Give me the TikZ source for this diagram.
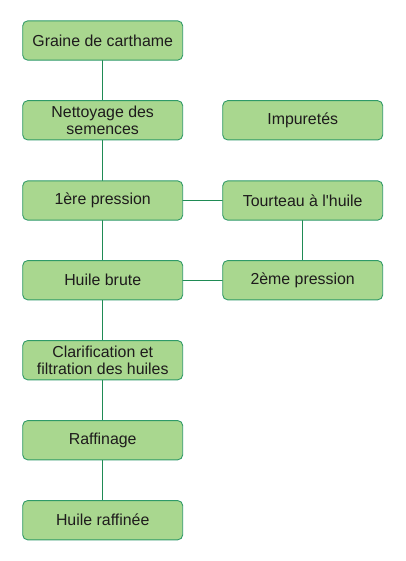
\documentclass[tikz,border=0pt]{standalone}
\usepackage{fontspec}
\setmainfont{Liberation Sans}
\usepackage{tikz}
\usetikzlibrary{positioning}
\definecolor{boxFill}{HTML}{A9D78F}
\definecolor{boxEdge}{HTML}{2F9A68}
\definecolor{linkGreen}{HTML}{1F8B55}
\definecolor{textGray}{HTML}{1E1B1C}
\tikzset{
  etape/.style={draw=boxEdge, fill=boxFill, line width=0.9pt, rounded corners=5pt,
    minimum width=160pt, minimum height=39.3pt, inner sep=0pt, align=center,
    text=textGray, font=\fontsize{15.9}{16.8}\selectfont},
  lien/.style={draw=linkGreen, line width=0.9pt}
}

\begin{document}
\begin{tikzpicture}[x=1pt, y=-1pt]

  \useasboundingbox (0,0) rectangle (406,561);

  \coordinate (L1) at (102.7,40.5);
  \coordinate (L2) at (102.7,120.3);
  \coordinate (L3) at (102.7,200.5);
  \coordinate (L4) at (102.7,280.2);
  \coordinate (L5) at (102.7,360.2);
  \coordinate (L6) at (102.7,440.2);
  \coordinate (L7) at (102.7,520.2);
  \coordinate (R2) at (302.7,120.3);
  \coordinate (R3) at (302.7,200.5);
  \coordinate (R4) at (302.7,280.2);

  % connectors first, boxes on top
  \path[lien] (L1) -- (L7);
  \path[lien] (L3) -- (R3);
  \path[lien] (L4) -- (R4);
  \path[lien] (R3) -- (R4);

  \node[etape] (graine) at (L1) {Graine de carthame};
  \node[etape] (nettoyage) at (L2) {Nettoyage des\\semences};
  \node[etape] (pression1) at (L3) {1ère pression};
  \node[etape] (brute) at (L4) {Huile brute};
  \node[etape] (clarif) at (L5) {Clarification et\\filtration des huiles};
  \node[etape] (raffinage) at (L6) {Raffinage};
  \node[etape] (raffinee) at (L7) {Huile raffinée};

  \node[etape] (impuretes) at (R2) {Impuretés};
  \node[etape] (tourteau) at (R3) {Tourteau à l\textquotesingle huile};
  \node[etape] (pression2) at (R4) {2ème pression};

\end{tikzpicture}
\end{document}
